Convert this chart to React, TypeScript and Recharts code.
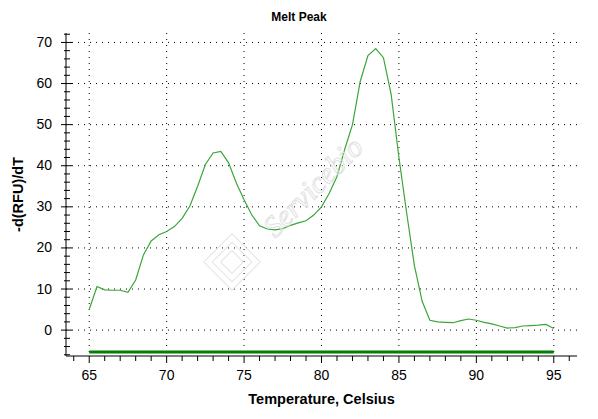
import React from 'react';
import { LineChart, Line, XAxis, YAxis, CartesianGrid, Label } from 'recharts';

const temperatures = [
  65, 65.5, 66, 66.5, 67, 67.5, 68, 68.5, 69, 69.5,
  70, 70.5, 71, 71.5, 72, 72.5, 73, 73.5, 74, 74.5,
  75, 75.5, 76, 76.5, 77, 77.5, 78, 78.5, 79, 79.5,
  80, 80.5, 81, 81.5, 82, 82.5, 83, 83.5, 84, 84.5,
  85, 85.5, 86, 86.5, 87, 87.5, 88, 88.5, 89, 89.5,
  90, 90.5, 91, 91.5, 92, 92.5, 93, 93.5, 94, 94.5, 95,
];
const meltPeak = [
  5.0, 10.6, 9.8, 9.7, 9.7, 9.2, 12.2, 18.3, 21.7, 23.2,
  24.0, 25.2, 27.2, 30.2, 35.0, 40.3, 43.1, 43.5, 40.7, 35.8,
  31.7, 28.0, 25.4, 24.6, 24.4, 24.7, 25.5, 26.1, 26.6, 28.0,
  30.0, 33.3, 37.4, 44.0, 50.0, 60.5, 66.8, 68.5, 66.3, 57.3,
  42.0, 28.5, 15.7, 7.0, 2.4, 2.0, 1.9, 1.8, 2.3, 2.7,
  2.4, 1.9, 1.5, 1.0, 0.5, 0.6, 1.0, 1.1, 1.2, 1.4, 0.4,
];
const baselineTemps = [65, 95];
const baselineValues = [-5.3, -5.3];

const xDomain = [63.5, 96.5];
const yDomain = [-6.3, 72.3];
const xTicks = [64, 65, 66, 67, 68, 69, 70, 71, 72, 73, 74, 75, 76, 77, 78, 79, 80, 81, 82, 83, 84, 85, 86, 87, 88, 89, 90, 91, 92, 93, 94, 95, 96];
const xMajorTicks = [65, 70, 75, 80, 85, 90, 95];
const yTicks = [-6, -4, -2, 0, 2, 4, 6, 8, 10, 12, 14, 16, 18, 20, 22, 24, 26, 28, 30, 32, 34, 36, 38, 40, 42, 44, 46, 48, 50, 52, 54, 56, 58, 60, 62, 64, 66, 68, 70, 72];
const yMajorTicks = [0, 10, 20, 30, 40, 50, 60, 70];

const curveData = temperatures.map((t, i) => ({ t, v: meltPeak[i] }));
const baselineData = baselineTemps.map((t, i) => ({ t, v: baselineValues[i] }));

const FONT = '"Liberation Sans", Arial, sans-serif';

const BottomTick = (props: any) => {
  const { x, y, payload } = props;
  const v = payload.value;
  const major = xMajorTicks.includes(v);
  return (
    <g>
      <line x1={x} x2={x} y1={y} y2={y + (major ? 7 : 5)} stroke="#000" />
      {major && (
        <text x={x} y={y + 24} textAnchor="middle" fontSize={14} fontFamily={FONT} fill="#000">
          {v}
        </text>
      )}
    </g>
  );
};

const TopTick = (props: any) => {
  const { x, y, payload } = props;
  const major = xMajorTicks.includes(payload.value);
  return <line x1={x} x2={x} y1={y - 1} y2={y + (major ? 7 : 6)} stroke="#000" />;
};

const LeftTick = (props: any) => {
  const { x, y, payload } = props;
  const v = payload.value;
  const major = yMajorTicks.includes(v);
  return (
    <g>
      <line x1={x - (major ? 5 : 2)} x2={x + (major ? 6 : 4)} y1={y} y2={y} stroke="#000" />
      {major && (
        <text x={x - 14} y={y + 4.5} textAnchor="end" fontSize={14} fontFamily={FONT} fill="#000">
          {v}
        </text>
      )}
    </g>
  );
};

const RightTick = (props: any) => {
  const { x, y, payload } = props;
  const major = yMajorTicks.includes(payload.value);
  return <line x1={x - (major ? 6 : 4)} x2={x + 1} y1={y} y2={y} stroke="#000" />;
};

export default function App() {
  return (
    <div style={{ position: 'relative', width: 590, height: 411 }}>
      <LineChart width={590} height={411} margin={{ top: 25, right: 21, bottom: 0, left: 0 }}>
        <CartesianGrid
          xAxisId="b"
          yAxisId="l"
          stroke="#000"
          strokeDasharray="1 5"
          horizontalValues={yMajorTicks}
          verticalValues={xMajorTicks}
          syncWithTicks={false}
        />
        <XAxis
          xAxisId="b"
          type="number"
          dataKey="t"
          domain={xDomain}
          ticks={xTicks}
          interval={0}
          allowDataOverflow
          height={63}
          tickSize={0}
          tickMargin={0}
          tickLine={false}
          axisLine={{ stroke: '#000' }}
          tick={<BottomTick />}
        >
          <Label
            value="Temperature, Celsius"
            position="insideBottom"
            offset={15}
            style={{ fontFamily: FONT, fontSize: 14.5, fontWeight: 'bold', fill: '#000' }}
          />
        </XAxis>
        <XAxis
          xAxisId="t"
          orientation="top"
          type="number"
          dataKey="t"
          domain={xDomain}
          ticks={xTicks}
          interval={0}
          allowDataOverflow
          height={0}
          tickSize={0}
          tickMargin={0}
          tickLine={false}
          axisLine={{ stroke: '#000' }}
          tick={<TopTick />}
        />
        <YAxis
          yAxisId="l"
          type="number"
          domain={yDomain}
          ticks={yTicks}
          interval={0}
          allowDataOverflow
          width={58}
          tickSize={0}
          tickMargin={0}
          tickLine={false}
          axisLine={{ stroke: '#000' }}
          tick={<LeftTick />}
        >
          <Label
            value="-d(RFU)/dT"
            angle={-90}
            position="insideLeft"
            offset={10}
            style={{ fontFamily: FONT, fontSize: 14.5, fontWeight: 'bold', fill: '#000', textAnchor: 'middle' }}
          />
        </YAxis>
        <YAxis
          yAxisId="r"
          orientation="right"
          type="number"
          domain={yDomain}
          ticks={yTicks}
          interval={0}
          allowDataOverflow
          width={0}
          tickSize={0}
          tickMargin={0}
          tickLine={false}
          axisLine={{ stroke: '#000' }}
          tick={<RightTick />}
        />
        <Line
          xAxisId="b"
          yAxisId="l"
          data={baselineData}
          dataKey="v"
          type="linear"
          stroke="#007f00"
          strokeWidth={3}
          dot={false}
          activeDot={false}
          isAnimationActive={false}
        />
        <Line
          xAxisId="b"
          yAxisId="l"
          data={curveData}
          dataKey="v"
          type="linear"
          stroke="#3aa63a"
          strokeWidth={1.2}
          dot={false}
          activeDot={false}
          isAnimationActive={false}
        />
      </LineChart>
      <svg
        width={590}
        height={411}
        style={{ position: 'absolute', left: 0, top: 0, pointerEvents: 'none' }}
      >
        <text
          x={291}
          y={12.7}
          textAnchor="middle"
          fontFamily={FONT}
          fontSize={12}
          fontWeight="bold"
          fill="#000"
        >
          Melt Peak
        </text>
        <text
          x={312}
          y={186}
          textAnchor="middle"
          fontFamily='"Liberation Serif", serif'
          fontStyle="italic"
          fontSize={30}
          fill="none"
          stroke="#e2e2e2"
          strokeWidth={1}
          transform="rotate(-45 312 186)"
        >
          Servicebio
        </text>
        <g transform="rotate(45 224 254)" fill="none" stroke="#e4e4e4">
          <rect x={204} y={234} width={40} height={40} />
          <rect x={210} y={240} width={28} height={28} />
          <rect x={216} y={246} width={16} height={16} />
        </g>
      </svg>
    </div>
  );
}
